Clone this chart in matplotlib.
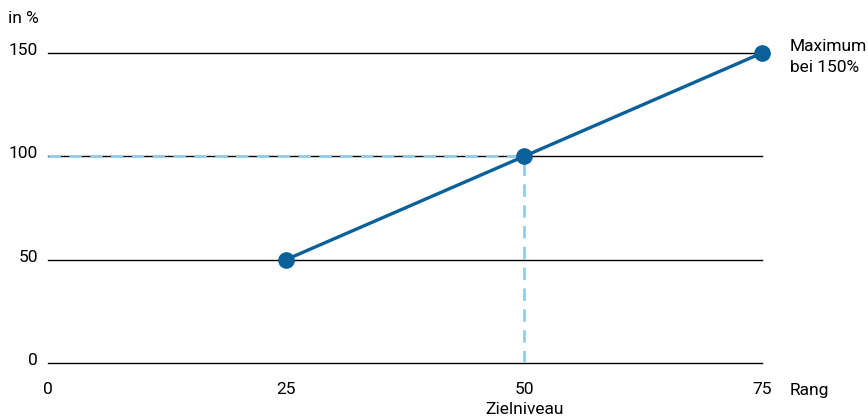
import matplotlib
matplotlib.use("Agg")
import matplotlib.pyplot as plt

plt.rcParams['font.family'] = ['Roboto', 'DejaVu Sans']

rang = [25, 50, 75]
percent = [50, 100, 150]
target_x = 50
target_y = 100
yticks = [0, 50, 100, 150]
xticks = [0, 25, 50, 75]

line_color = '#0a6199'
dash_color = '#92cdec'

fig = plt.figure(figsize=(8.68, 4.17), dpi=100)
ax = fig.add_axes([48/868, 54/417, (762-48)/868, (363-53)/417])
ax.set_xlim(0, 75)
ax.set_ylim(0, 150)

for y in yticks:
    ax.axhline(y, color='black', lw=1.0, zorder=1, clip_on=False)

ax.plot([0, target_x], [target_y, target_y], color=dash_color, lw=2, ls=(0, (4.5, 3)), zorder=2)
ax.plot([target_x, target_x], [0, target_y], color=dash_color, lw=2, ls=(0, (4.5, 3)), zorder=2)

ax.plot(rang, percent, color=line_color, lw=2.4, marker='o', ms=11, clip_on=False, zorder=3)

for s in ax.spines.values():
    s.set_visible(False)
ax.set_xticks([])
ax.set_yticks([])

fs = 12.5
for y in yticks:
    ax.annotate(str(y), (0, y), xytext=(-10, -2), textcoords='offset pixels',
                ha='right', va='baseline', fontsize=fs)
for x in xticks:
    ax.annotate(str(x), (x, 0), xytext=(0, -27), textcoords='offset pixels',
                ha='center', va='center', fontsize=fs)
ax.annotate('Zielniveau', (target_x, 0), xytext=(0, -46), textcoords='offset pixels',
            ha='center', va='center', fontsize=fs)
ax.annotate('Rang', (75, 0), xytext=(28, -27), textcoords='offset pixels',
            ha='left', va='center', fontsize=fs)
ax.annotate('in %', (0, 150), xytext=(-40, 34), textcoords='offset pixels',
            ha='left', va='center', fontsize=fs)
ax.annotate('Maximum\nbei 150%', (75, 150), xytext=(28, -4), textcoords='offset pixels',
            ha='left', va='center', fontsize=fs, linespacing=1.5)

fig.savefig('out.png', dpi=100)
